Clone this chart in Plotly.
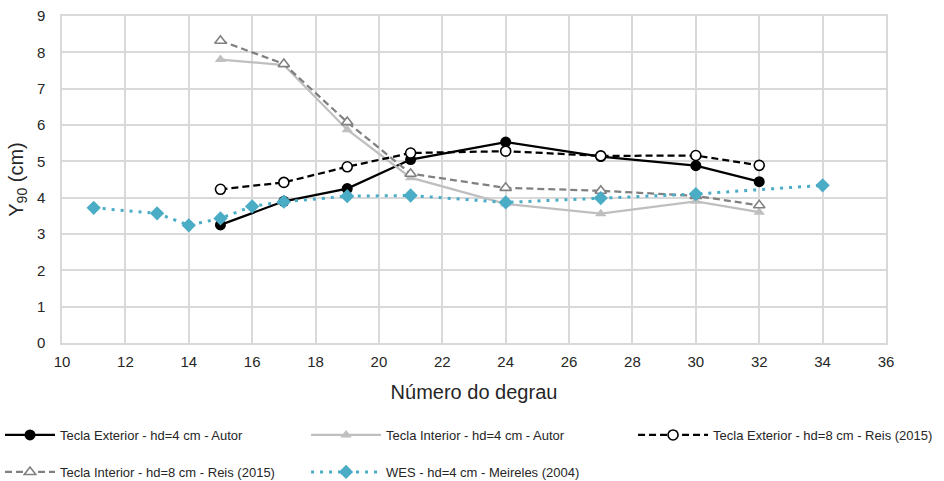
import plotly.graph_objects as go

# Step number (x) and Y90 (cm) per series
x_autor = [15, 17, 19, 21, 24, 27, 30, 32]
ext_hd4_autor = [3.25, 3.90, 4.25, 5.05, 5.53, 5.13, 4.88, 4.44]
int_hd4_autor = [7.80, 7.65, 5.87, 4.55, 3.83, 3.56, 3.90, 3.60]

x_reis = [15, 17, 19, 21, 24, 27, 30, 32]
ext_hd8_reis = [4.23, 4.42, 4.85, 5.23, 5.28, 5.15, 5.16, 4.89]
int_hd8_reis = [8.32, 7.68, 6.08, 4.66, 4.27, 4.19, 4.05, 3.79]

x_wes = [11, 13, 14, 15, 16, 17, 19, 21, 24, 27, 30, 34]
wes_hd4_meireles = [3.72, 3.57, 3.24, 3.43, 3.76, 3.89, 4.04, 4.06, 3.87, 3.99, 4.10, 4.34]

names = [
    "Tecla Exterior - hd=4 cm - Autor",
    "Tecla Interior - hd=4 cm - Autor",
    "Tecla Exterior - hd=8 cm - Reis (2015)",
    "Tecla Interior - hd=8 cm - Reis (2015)",
    "WES - hd=4 cm - Meireles (2004)",
]

fig = go.Figure()

fig.add_trace(go.Scatter(
    x=x_autor, y=ext_hd4_autor, name=names[0], mode="lines+markers",
    legend="legend",
    line=dict(color="#000000", width=2.25),
    marker=dict(symbol="circle", size=11, color="#000000"),
))
fig.add_trace(go.Scatter(
    x=x_autor, y=int_hd4_autor, name=names[1], mode="lines+markers",
    legend="legend2",
    line=dict(color="#bfbfbf", width=2.25),
    marker=dict(symbol="triangle-up", size=10, color="#bfbfbf"),
))
fig.add_trace(go.Scatter(
    x=x_reis, y=ext_hd8_reis, name=names[2], mode="lines+markers",
    legend="legend3",
    line=dict(color="#000000", width=2.25, dash="7px,4px"),
    marker=dict(symbol="circle", size=10, color="#ffffff",
                line=dict(color="#000000", width=1.6)),
))
fig.add_trace(go.Scatter(
    x=x_reis, y=int_hd8_reis, name=names[3], mode="lines+markers",
    legend="legend4",
    line=dict(color="#808080", width=2.25, dash="7px,4px"),
    marker=dict(symbol="triangle-up", size=10, color="#ffffff",
                line=dict(color="#808080", width=1.6)),
))
fig.add_trace(go.Scatter(
    x=x_wes, y=wes_hd4_meireles, name=names[4], mode="lines+markers",
    legend="legend5",
    line=dict(color="#4bacc6", width=3, dash="3px,6px"),
    marker=dict(symbol="diamond", size=11, color="#4bacc6"),
))

legend_font = dict(family="Liberation Sans, Arial, sans-serif", size=13, color="#262626")


def legend_box(xpos, ypos, symbol_width=70):
    return dict(
        xref="container", yref="container", x=xpos, y=ypos,
        xanchor="left", yanchor="middle", orientation="h",
        itemwidth=symbol_width, font=legend_font, bgcolor="rgba(0,0,0,0)",
    )


grid = "#d9d9d9"
fig.update_layout(
    width=944, height=481,
    margin=dict(l=62, r=58, t=16, b=138, autoexpand=False),
    paper_bgcolor="white", plot_bgcolor="white",
    font=dict(family="Liberation Sans, Arial, sans-serif", color="#262626"),
    showlegend=True,
    legend=legend_box(0.0, 0.0956, 50),
    legend2=legend_box(0.3242, 0.0956),
    legend3=legend_box(0.6706, 0.0956),
    legend4=legend_box(0.0, 0.0187, 50),
    legend5=legend_box(0.3242, 0.0187),
    xaxis=dict(
        range=[10, 36], dtick=2, tick0=10,
        showgrid=True, gridcolor=grid, gridwidth=1.5,
        showline=True, linecolor=grid, linewidth=1.5, mirror=True,
        zeroline=False, ticks="", tickfont=dict(size=15), ticklabelstandoff=4,
        title=dict(text="Número do degrau", font=dict(size=20), standoff=16),
    ),
    yaxis=dict(
        range=[0, 9], dtick=1,
        showgrid=True, gridcolor=grid, gridwidth=1.5,
        showline=True, linecolor=grid, linewidth=1.5, mirror=True,
        zeroline=False, ticks="", tickfont=dict(size=15), ticklabelstandoff=12,
        title=dict(text="Y<sub>90</sub> (cm)", font=dict(size=20), standoff=8),
    ),
)

fig.write_html("out.html")
